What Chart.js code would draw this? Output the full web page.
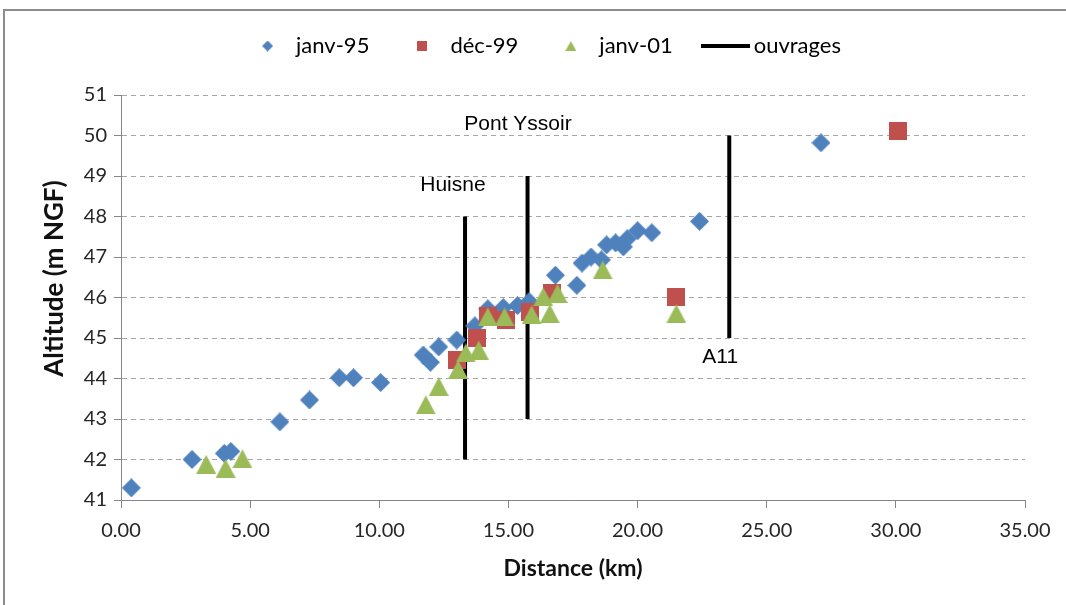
<!DOCTYPE html>
<html>
<head>
<meta charset="utf-8">
<script src="https://cdn.jsdelivr.net/npm/chart.js@4.4.1/dist/chart.umd.min.js"></script>
<style>
  html, body { margin: 0; padding: 0; background: #fff; overflow: hidden; }
  #wrap { width: 1066px; height: 605px; position: relative; }
</style>
</head>
<body>
<div id="wrap"><canvas id="profil" width="1066" height="605"></canvas></div>
<script>
// releves (distance km / altitude m NGF)
const janv95X = [0.4, 2.75, 4.0, 4.25, 6.15, 7.3, 8.45, 9.0, 10.05, 11.7, 11.98, 12.3, 13.0, 13.7, 14.2, 14.8, 15.35, 15.8, 16.82, 17.65, 17.85, 18.2, 18.6, 18.8, 19.15, 19.45, 19.6, 20.0, 20.55, 22.4, 27.1];
const janv95Y = [41.3, 42.0, 42.15, 42.2, 42.93, 43.47, 44.02, 44.02, 43.9, 44.58, 44.4, 44.78, 44.95, 45.3, 45.72, 45.75, 45.8, 45.9, 46.55, 46.3, 46.85, 47.0, 46.93, 47.3, 47.35, 47.25, 47.45, 47.65, 47.6, 47.88, 49.82];

const dec99X = [13.0, 13.8, 14.2, 14.9, 15.85, 16.7, 21.5, 30.1];
const dec99Y = [44.45, 45.0, 45.55, 45.45, 45.65, 46.12, 46.02, 50.1];

const janv01X = [3.3, 4.05, 4.7, 11.8, 12.3, 13.05, 13.35, 13.85, 14.2, 14.85, 15.9, 16.35, 16.6, 16.9, 18.65, 21.5];
const janv01Y = [41.88, 41.78, 42.02, 43.35, 43.8, 44.22, 44.63, 44.7, 45.52, 45.52, 45.57, 46.02, 45.6, 46.1, 46.68, 45.6];

// ouvrages : position + haut / bas du trait
const ouvrageNames = ['Huisne', 'Pont Yssoir', 'A11'];
const ouvrageX = [13.32, 15.74, 23.55];
const ouvrageTop = [48, 49, 50];
const ouvrageBottom = [42, 43, 45];
const ouvrageLabelX = [12.85, 15.37, 23.2];
const ouvrageLabelY = [48.78, 50.28, 44.52];

const xTickValues = [0, 5, 10, 15, 20, 25, 30, 35];
const yTickValues = [41, 42, 43, 44, 45, 46, 47, 48, 49, 50, 51];

const BLUE = '#4f81bd', RED = '#c0504d', GREEN = '#9bbb59';

function makeMarker(shape, w, h, color) {
  const c = document.createElement('canvas');
  c.width = w; c.height = h;
  const g = c.getContext('2d');
  g.fillStyle = color;
  g.beginPath();
  if (shape === 'diamond') {
    g.moveTo(w / 2, 0); g.lineTo(w, h / 2); g.lineTo(w / 2, h); g.lineTo(0, h / 2);
  } else if (shape === 'triangle') {
    g.moveTo(w / 2, 0); g.lineTo(w, h); g.lineTo(0, h);
  } else {
    g.rect(0, 0, w, h);
  }
  g.closePath();
  g.fill();
  return c;
}

const pts = (xs, ys) => xs.map((x, i) => ({x: x, y: ys[i]}));

const ouvragesData = [];
ouvrageX.forEach((x, i) => {
  ouvragesData.push({x: x, y: ouvrageTop[i]}, {x: x, y: ouvrageBottom[i]}, {x: x, y: null});
});

const legendMarks = [
  makeMarker('diamond', 11, 11, BLUE),
  makeMarker('square', 10, 10, RED),
  makeMarker('triangle', 11, 10, GREEN),
  makeMarker('line', 49, 4, '#000')
];

const frame = {
  id: 'frame',
  beforeDraw(chart) {
    const ctx = chart.ctx;
    ctx.save();
    ctx.strokeStyle = '#8c8c8c';
    ctx.lineWidth = 2;
    ctx.strokeRect(4, 10, 1200, 800);
    ctx.restore();
  }
};

// legende : hauteur fixe + decalage vers la droite comme dans Excel
const legendSpace = {
  id: 'legendSpace',
  beforeInit(chart) {
    const lg = chart.legend;
    const fit = lg.fit;
    const draw = lg.draw;
    lg.fit = function () {
      fit.call(this);
      this.height = 95;
    };
    lg.draw = function () {
      this.ctx.save();
      this.ctx.translate(33, 0);
      draw.call(this);
      this.ctx.restore();
    };
  }
};

const ouvrageLabels = {
  id: 'ouvrageLabels',
  afterDatasetsDraw(chart) {
    const {ctx, scales: {x, y}} = chart;
    ctx.save();
    ctx.font = '21px "Liberation Sans", Arial, sans-serif';
    ctx.fillStyle = '#000';
    ctx.textAlign = 'center';
    ctx.textBaseline = 'middle';
    ouvrageNames.forEach((name, i) => {
      ctx.fillText(name, x.getPixelForValue(ouvrageLabelX[i]), y.getPixelForValue(ouvrageLabelY[i]));
    });
    ctx.restore();
  }
};

const ctx = document.getElementById('profil');

new Chart(ctx, {
  type: 'scatter',
  data: {
    datasets: [
      {
        label: 'janv-95',
        data: pts(janv95X, janv95Y),
        pointStyle: makeMarker('diamond', 19, 19, BLUE),
        pointRadius: 9,
        order: 3
      },
      {
        label: 'déc-99',
        data: pts(dec99X, dec99Y),
        pointStyle: makeMarker('square', 18, 18, RED),
        pointRadius: 9,
        order: 2
      },
      {
        label: 'janv-01',
        data: pts(janv01X, janv01Y),
        pointStyle: makeMarker('triangle', 20, 19, GREEN),
        pointRadius: 9,
        order: 1
      },
      {
        label: 'ouvrages',
        data: ouvragesData,
        showLine: true,
        spanGaps: false,
        borderColor: '#000',
        backgroundColor: '#000',
        borderWidth: 4,
        pointRadius: 0,
        order: 4
      }
    ]
  },
  options: {
    responsive: false,
    animation: false,
    events: [],
    layout: { padding: { left: 0, right: 41, top: 0, bottom: 0 } },
    plugins: {
      tooltip: { enabled: false },
      legend: {
        position: 'top',
        labels: {
          usePointStyle: true,
          pointStyleWidth: 35,
          padding: 35,
          color: '#1a1a1a',
          font: { family: 'Lato', size: 22 },
          generateLabels: (chart) => chart.data.datasets.map((ds, i) => ({
            text: ds.label,
            pointStyle: legendMarks[i],
            fillStyle: 'transparent',
            strokeStyle: 'transparent',
            lineWidth: 0,
            hidden: false,
            datasetIndex: i
          }))
        }
      }
    },
    scales: {
      x: {
        type: 'linear',
        min: 0,
        max: 35,
        afterFit(s) { s.height = 105; },
        afterBuildTicks(s) { s.ticks = xTickValues.map(v => ({value: v})); },
        ticks: {
          padding: 11,
          color: '#262626',
          font: { family: 'Lato', size: 20 },
          callback: v => v.toFixed(2)
        },
        grid: { drawOnChartArea: false, drawTicks: true, tickLength: 8, color: '#868686' },
        border: { display: true, color: '#868686' },
        title: {
          display: true,
          text: 'Distance (km)',
          color: '#111',
          font: { family: 'Lato', size: 23, weight: 'bold' },
          padding: { top: 0, bottom: 23 }
        }
      },
      y: {
        type: 'linear',
        min: 41,
        max: 51,
        afterFit(s) { s.width = 121; },
        afterBuildTicks(s) { s.ticks = yTickValues.map(v => ({value: v})); },
        ticks: {
          padding: 7,
          color: '#262626',
          font: { family: 'Lato', size: 20 }
        },
        grid: { color: '#a6a6a6', tickColor: '#868686', tickLength: 7, tickBorderDash: [] },
        border: { display: true, color: '#868686', dash: [5, 4] },
        title: {
          display: true,
          text: '      Altitude (m NGF)',
          color: '#111',
          font: { family: 'Lato', size: 26, weight: 'bold' },
          padding: { top: 39, bottom: 0 }
        }
      }
    }
  },
  plugins: [frame, legendSpace, ouvrageLabels]
});
</script>
</body>
</html>
